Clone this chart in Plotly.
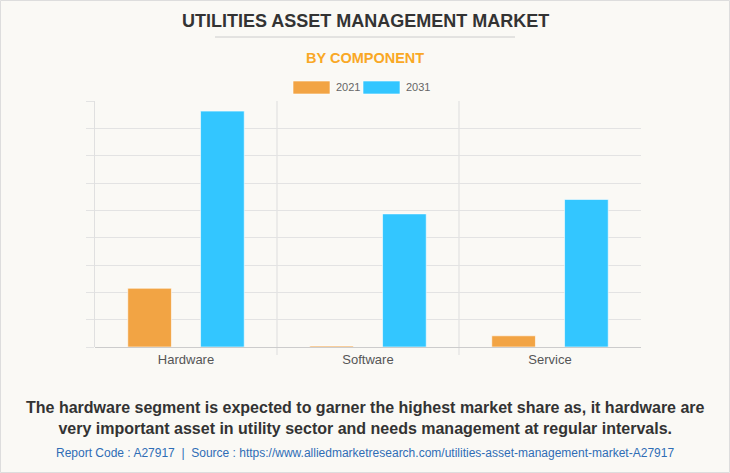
import plotly.graph_objects as go

categories = ["Hardware", "Software", "Service"]
years = ["2021", "2031"]
values_2021 = [2150, 40, 410]
values_2031 = [8630, 4870, 5400]
colors = {"2021": "#F2A444", "2031": "#33C6FF"}

W, H = 730, 473
L, R, T, B = 95, 89, 101, 126
PW, PH = W - L - R, H - T - B


def px(x):
    return (x - L) / PW


def py(y):
    return (H - B - y) / PH


fig = go.Figure()
for yr, vals in zip(years, [values_2021, values_2031]):
    fig.add_trace(go.Bar(
        name=yr, x=categories, y=vals,
        marker=dict(color=colors[yr], line=dict(color="rgba(255,255,255,0.6)", width=1)),
        showlegend=False,
    ))

annotations = [
    dict(text="UTILITIES ASSET MANAGEMENT MARKET", x=px(365), y=py(20.5),
         font=dict(family="Liberation Sans", size=18, color="#333333", weight="bold")),
    dict(text="BY COMPONENT", x=px(365), y=py(58),
         font=dict(family="Liberation Sans", size=14.5, color="#F9A825", weight="bold")),
    dict(text="2021", x=px(334), y=py(87), xanchor="left",
         font=dict(family="Liberation Sans", size=11, color="#666666")),
    dict(text="2031", x=px(404), y=py(87), xanchor="left",
         font=dict(family="Liberation Sans", size=11, color="#666666")),
    dict(text="The hardware segment is expected to garner the highest market share as, it hardware are<br>"
              "very important asset in utility sector and needs management at regular intervals.",
         x=px(365), y=py(418),
         font=dict(family="Liberation Sans", size=16, color="#333333", weight="bold")),
    dict(text="Report Code : A27917  |  Source : https://www.alliedmarketresearch.com/utilities-asset-management-market-A27917",
         x=px(365), y=py(453),
         font=dict(family="Liberation Sans", size=12, color="#2F6DB5")),
]
for a in annotations:
    a.update(xref="paper", yref="paper", showarrow=False)
    a.setdefault("xanchor", "center")
    a.setdefault("yanchor", "middle")

shapes = [
    dict(type="line", xref="paper", yref="paper", x0=px(215), x1=px(515), y0=py(37), y1=py(37),
         line=dict(color="#CCCCCC", width=1)),
    dict(type="rect", xref="paper", yref="paper", x0=px(293), x1=px(330), y0=py(94), y1=py(81),
         fillcolor=colors["2021"], line=dict(color="rgba(255,255,255,0.6)", width=1)),
    dict(type="rect", xref="paper", yref="paper", x0=px(363), x1=px(400), y0=py(94), y1=py(81),
         fillcolor=colors["2031"], line=dict(color="rgba(255,255,255,0.6)", width=1)),
    dict(type="rect", xref="paper", yref="paper", x0=px(0.5), x1=px(W - 0.5), y0=py(H - 0.5), y1=py(0.5),
         line=dict(color="#DDDDDD", width=1)),
]
# category separators (between categories), extending slightly below the baseline
for i in range(len(categories) - 1):
    shapes.append(dict(type="line", xref="x", yref="paper", x0=i + 0.5, x1=i + 0.5,
                       y0=py(355), y1=1, line=dict(color="#DDDDDD", width=1), layer="below"))

fig.update_layout(
    width=W, height=H,
    margin=dict(l=L, r=R, t=T, b=B),
    paper_bgcolor="#FAF9F5", plot_bgcolor="#FAF9F5",
    barmode="group", bargap=0.2, bargroupgap=0.4,
    annotations=annotations, shapes=shapes,
    showlegend=False,
    font=dict(family="Liberation Sans"),
    xaxis=dict(
        ticks="", showgrid=False, showline=False, zeroline=False,
        range=[-0.5, 2.5], ticklabelstandoff=3,
        tickfont=dict(family="Liberation Sans", size=13, color="#555555"),
    ),
    yaxis=dict(
        range=[0, 9000], dtick=1000, showticklabels=False,
        ticks="outside", ticklen=8, tickcolor="#E3E3E3",
        showgrid=True, gridcolor="#E3E3E3", gridwidth=1,
        showline=True, linecolor="#E0E0E0", linewidth=1,
        zeroline=True, zerolinecolor="#CCCCCC", zerolinewidth=1,
    ),
)

fig.write_html("out.html", config={"displayModeBar": False},
               post_script="document.body.style.margin='0';")
